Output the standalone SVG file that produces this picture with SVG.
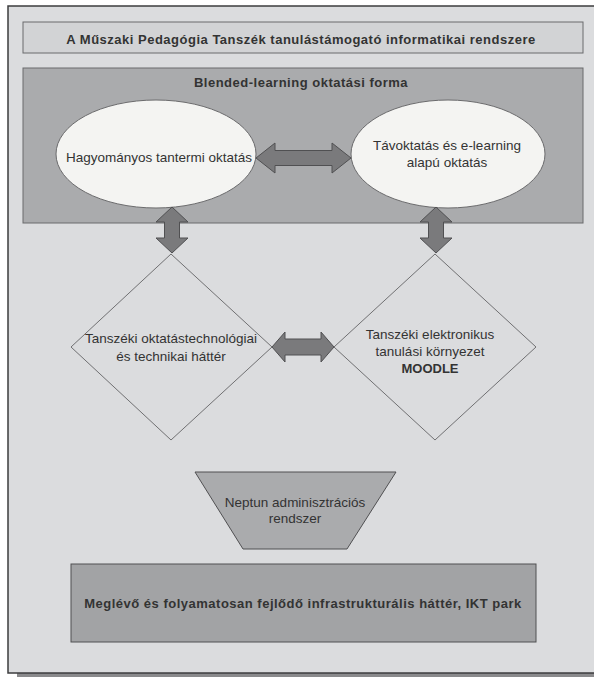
<svg xmlns="http://www.w3.org/2000/svg" width="594" height="677" viewBox="0 0 594 677">
<style>
text{font-family:"Liberation Sans",Arial,sans-serif;fill:#333;text-anchor:middle}
.reg{font-size:13.5px}
.bold{font-size:13px;font-weight:bold;letter-spacing:0.5px}
.arrow{fill:#7a7a7c;stroke:#505052;stroke-width:1}
.diamond{fill:none;stroke:#707072;stroke-width:1}
</style>
<rect x="0" y="0" width="594" height="677" fill="#ffffff"/>
<rect x="17" y="673" width="590" height="4" fill="#8a8a8c"/>
<rect id="frame" x="8" y="6" width="600" height="667" fill="#dbdcde" stroke="#3c3c3e" stroke-width="1.5"/>
<g id="title">
<rect x="23" y="22" width="560" height="31" fill="#d2d3d5" stroke="#6a6a6c" stroke-width="1"/>
<text class="bold" x="301" y="44">A Műszaki Pedagógia Tanszék tanulástámogató informatikai rendszere</text>
</g>
<g id="blended">
<rect x="23" y="68" width="560" height="155" fill="#aaabad" stroke="#6a6a6c" stroke-width="1"/>
<text class="bold" x="301" y="87">Blended-learning oktatási forma</text>
</g>
<g id="hagyomanyos">
<ellipse cx="156" cy="154" rx="100" ry="54" fill="#f4f4f2" stroke="#6a6a6c" stroke-width="1"/>
<text class="reg" x="159" y="162">Hagyományos tantermi oktatás</text>
</g>
<g id="tavoktatas">
<ellipse cx="448" cy="154" rx="97" ry="54" fill="#f4f4f2" stroke="#6a6a6c" stroke-width="1"/>
<text class="reg" x="447" y="150">Távoktatás és e-learning</text>
<text class="reg" x="447" y="167">alapú oktatás</text>
</g>
<g id="technikai">
<polygon class="diamond" points="171,254 272,347 171,440 71,347"/>
<text class="reg" x="171" y="343">Tanszéki oktatástechnológiai</text>
<text class="reg" x="171" y="361">és technikai háttér</text>
</g>
<g id="moodle">
<polygon class="diamond" points="435,254 536,347 435,440 334,347"/>
<text class="reg" x="430" y="339">Tanszéki elektronikus</text>
<text class="reg" x="430" y="356">tanulási környezet</text>
<text class="bold" x="430" y="373" style="letter-spacing:0">MOODLE</text>
</g>
<g id="neptun">
<polygon points="195,472 396,472 347,549 243,549" fill="#aaabad" stroke="#505052" stroke-width="1"/>
<text class="reg" x="295" y="507">Neptun adminisztrációs</text>
<text class="reg" x="295" y="523">rendszer</text>
</g>
<g id="infrastruktura">
<rect x="71" y="564" width="465" height="78" fill="#a2a3a5" stroke="#505052" stroke-width="1"/>
<text class="bold" x="303" y="608">Meglévő és folyamatosan fejlődő infrastrukturális háttér, IKT park</text>
</g>
<g id="connectors">
<polygon class="arrow" points="256,158 275,143 275,150.5 332,150.5 332,143 351,158 332,173 332,165.5 275,165.5 275,173"/>
<polygon class="arrow" points="172,207 188,222 179.5,222 179.5,238 188,238 172,253 156,238 164.5,238 164.5,222 156,222"/>
<polygon class="arrow" points="436,207 452,222 443.5,222 443.5,238 452,238 436,253 420,238 428.5,238 428.5,222 420,222"/>
<polygon class="arrow" points="272,347 285,332 285,339 321,339 321,332 334,347 321,362 321,355 285,355 285,362"/>
</g>
</svg>
